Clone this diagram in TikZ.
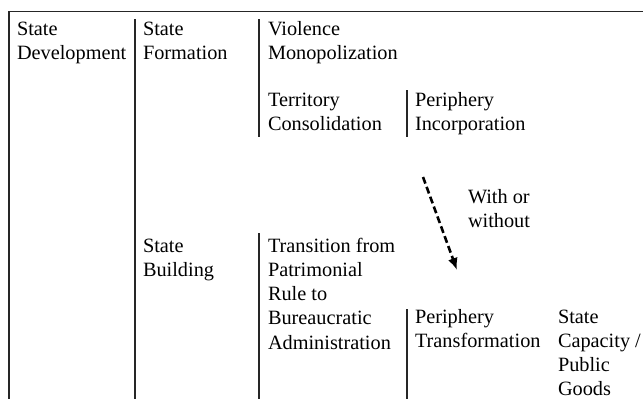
\documentclass[tikz,border=0pt]{standalone}
\usepackage{fontspec}
\setmainfont{Liberation Serif}
\newfontfamily\lblfont{Liberation Serif}
\usetikzlibrary{arrows.meta}
\newcommand\stk[1]{\vtop{\baselineskip=24.3pt\lineskiplimit=-20pt\halign{##\hfil\cr#1\crcr}}}
\begin{document}
\begin{tikzpicture}[x=1pt,y=-1pt,
  lbl/.style={anchor=base west,inner sep=0pt,outer sep=0pt,font=\lblfont\fontsize{20.3}{24.3}\selectfont},
  rule/.style={line width=1.1pt,black!85},
  dasharrow/.style={line width=2.6pt,dash pattern=on 7pt off 3.5pt,-{Latex[length=12pt,width=10pt]}}]
\useasboundingbox (0,0) rectangle (643,399);
% frame and dividers
\draw[rule] (643,11.7) -- (9,11.7) -- (9,399);
\draw[rule] (135,19) -- (135,399);
\draw[rule] (259,19) -- (259,137);
\draw[rule] (259,233) -- (259,399);
\draw[rule] (407,90) -- (407,137);
\draw[rule] (407,309) -- (407,399);
% labels
\node[lbl] (dev) at (17,35) {\stk{State\cr Development}};
\node[lbl] (form) at (143,35) {\stk{State\cr Formation}};
\node[lbl] (viol) at (268,35) {\stk{Violence\cr Monopolization}};
\node[lbl] (terr) at (268,106) {\stk{Territory\cr Consolidation}};
\node[lbl] (pinc) at (415,106) {\stk{Periphery\cr Incorporation}};
\node[lbl] (with) at (468,203) {\stk{With or\cr without}};
\node[lbl] (build) at (143,252) {\stk{State\cr Building}};
\node[lbl] (trans) at (268,252) {\stk{Transition from\cr Patrimonial\cr Rule to\cr Bureaucratic\cr Administration}};
\node[lbl] (ptrans) at (415,323) {\stk{Periphery\cr Transformation}};
\node[lbl] (cap) at (558,323) {\stk{State\cr Capacity /\cr Public\cr Goods}};
% dashed arrow
\coordinate (a1) at (423,177);
\coordinate (a2) at (457,270);
\draw[dasharrow] (a1) -- (a2);
\end{tikzpicture}
\end{document}
